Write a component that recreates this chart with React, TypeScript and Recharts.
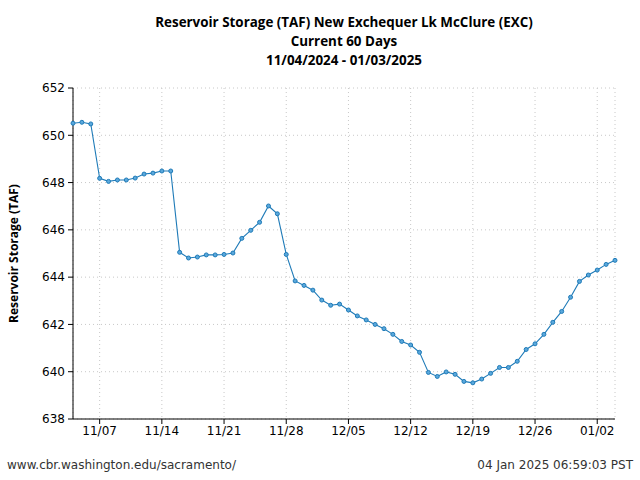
import React from 'react';
import {
  LineChart,
  Line,
  XAxis,
  YAxis,
  CartesianGrid,
} from 'recharts';

// one value per day, starting 11/04/2024
const startDate = new Date(2024, 10, 4);
const storage = [
  650.51, 650.55, 650.48, 648.18, 648.05, 648.11, 648.11, 648.19, 648.36, 648.4,
  648.49, 648.49, 645.05, 644.81, 644.85, 644.94, 644.94, 644.96, 645.02, 645.64,
  645.98, 646.32, 647.01, 646.68, 644.96, 643.84, 643.65, 643.45, 643.03, 642.81,
  642.86, 642.61, 642.36, 642.19, 642.0, 641.82, 641.58, 641.28, 641.13, 640.82,
  639.97, 639.8, 639.99, 639.89, 639.59, 639.53, 639.69, 639.93, 640.18, 640.18,
  640.44, 640.94, 641.18, 641.58, 642.09, 642.55, 643.15, 643.82, 644.09, 644.3,
  644.54, 644.71,
];
const xTicks = [3, 10, 17, 24, 31, 38, 45, 52, 59];
const yTicks = [638, 640, 642, 644, 646, 648, 650, 652];

const data = storage.map((value, day) => ({ day, value }));

const pad = (n: number) => (n < 10 ? '0' + n : '' + n);
const dayLabel = (day: number) => {
  const d = new Date(startDate.getTime());
  d.setDate(d.getDate() + day);
  return `${pad(d.getMonth() + 1)}/${pad(d.getDate())}`;
};

const font = '"DejaVu Sans", sans-serif';
const titleFont = '"Open Sans", "Noto Sans", sans-serif';

export default function App() {
  return (
    <div style={{ position: 'absolute', left: 0, top: 0, width: 640, height: 480, background: '#fff' }}>
      <div
        style={{
          position: 'absolute',
          top: 13,
          left: 0,
          width: 688,
          textAlign: 'center',
          fontFamily: titleFont,
          fontWeight: 700,
          fontSize: 13.4,
          lineHeight: '19px',
          color: '#000',
        }}
      >
        <div>Reservoir Storage (TAF) New Exchequer Lk McClure (EXC)</div>
        <div>Current 60 Days</div>
        <div>11/04/2024 - 01/03/2025</div>
      </div>
      <LineChart
        width={640}
        height={480}
        data={data}
        margin={{ top: 88, right: 25, bottom: 0, left: 0 }}
      >
        <CartesianGrid stroke="#c8c8c8" strokeDasharray="1 3" />
        <XAxis
          dataKey="day"
          type="number"
          domain={[0, 61]}
          ticks={xTicks}
          tickFormatter={dayLabel}
          height={61}
          stroke="#000"
          tickSize={5}
          tick={{ fill: '#000', fontSize: 12, fontFamily: font }}
        />
        <XAxis xAxisId="top" orientation="top" type="number" domain={[0, 61]} tick={false} tickLine={false} height={0} stroke="#000" />
        <YAxis
          domain={[638, 652]}
          ticks={yTicks}
          width={73}
          stroke="#000"
          tickSize={5}
          tickMargin={3}
          interval={0}
          tick={{ fill: '#000', fontSize: 12, fontFamily: font }}
          label={{
            value: 'Reservoir Storage (TAF)',
            angle: -90,
            position: 'insideLeft',
            offset: 14,
            style: { textAnchor: 'middle', fontFamily: titleFont, fontWeight: 700, fontSize: 12, fill: '#000' },
          }}
        />
        <YAxis yAxisId="right" orientation="right" domain={[638, 652]} tick={false} tickLine={false} width={0} stroke="#000" />
        <Line
          dataKey="value"
          stroke="#1f7bb8"
          strokeWidth={1.1}
          isAnimationActive={false}
          dot={{ r: 2, fill: '#5aa8dc', stroke: '#1f7bb8', strokeWidth: 1 }}
        />
      </LineChart>
      <div style={{ position: 'absolute', left: 7, top: 458, fontFamily: font, fontSize: 12, color: '#333' }}>
        www.cbr.washington.edu/sacramento/
      </div>
      <div style={{ position: 'absolute', right: 7, top: 458, fontFamily: font, fontSize: 12, color: '#333' }}>
        04 Jan 2025 06:59:03 PST
      </div>
    </div>
  );
}
